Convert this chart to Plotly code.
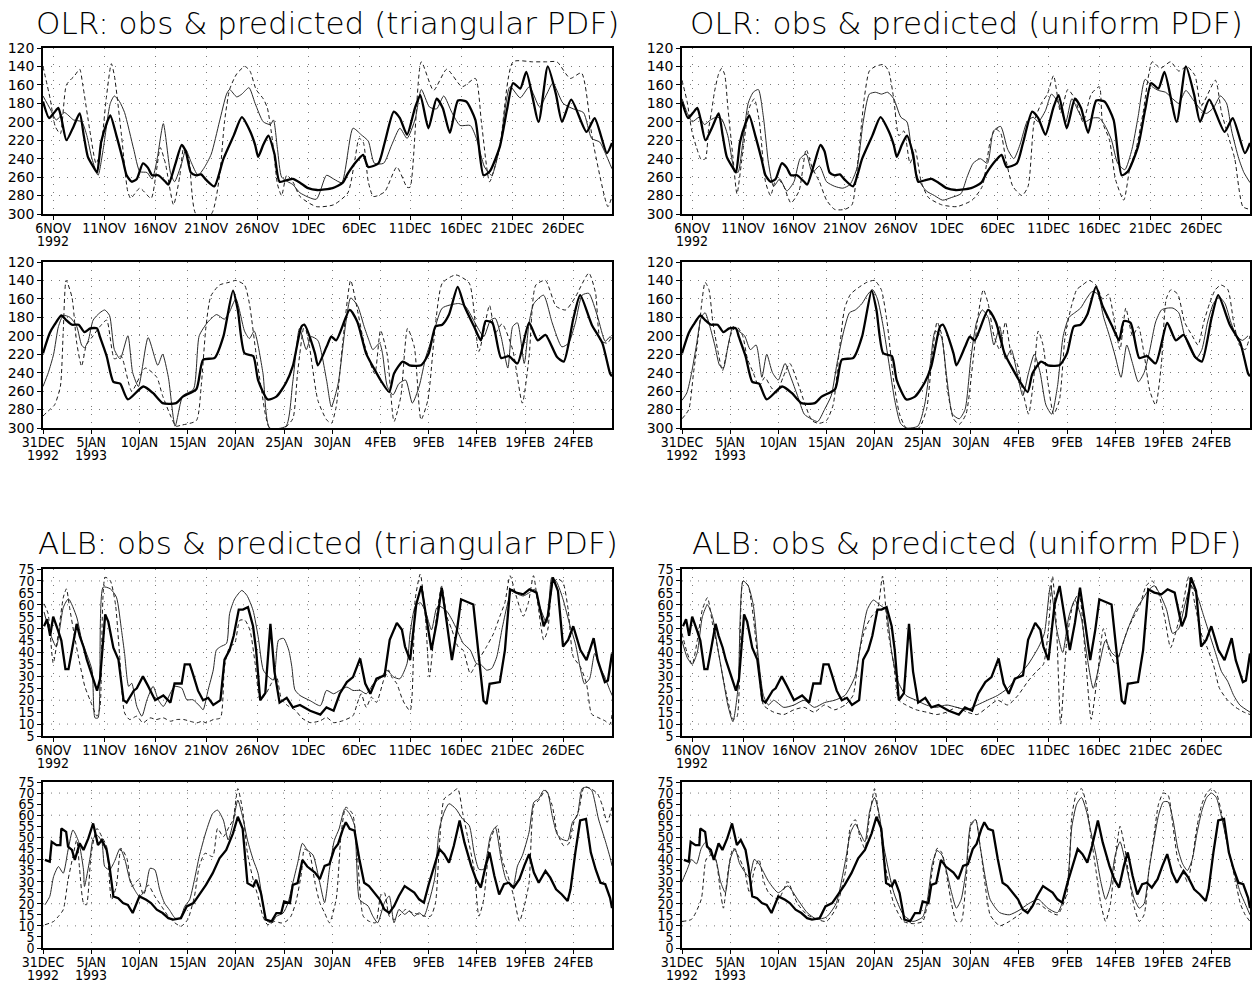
import plotly.graph_objects as go

# ---------------------------------------------------------------------------
# Time axes.  Nov-Dec panels count days from 5 NOV 1992 00Z,
# Jan-Feb panels count days from 31 DEC 1992 00Z.
# ---------------------------------------------------------------------------
NOV_RANGE = [0, 55.8]
JAN_RANGE = [0, 59.0]
NOV_TICK_DAYS = [1, 6, 11, 16, 21, 26, 31, 36, 41, 46, 51]
NOV_TICK_TEXT = ["6NOV", "11NOV", "16NOV", "21NOV", "26NOV", "1DEC",
                 "6DEC", "11DEC", "16DEC", "21DEC", "26DEC"]
JAN_TICK_DAYS = [0, 5, 10, 15, 20, 25, 30, 35, 40, 45, 50, 55]
JAN_TICK_TEXT = ["31DEC", "5JAN", "10JAN", "15JAN", "20JAN", "25JAN",
                 "30JAN", "4FEB", "9FEB", "14FEB", "19FEB", "24FEB"]
# year written under the first tick(s) of each time axis
NOV_YEAR_LABELS = [(1, "1992")]
JAN_YEAR_LABELS = [(0, "1992"), (5, "1993")]

OLR_TICKS = list(range(120, 301, 20))
ALB_NOV_TICKS = list(range(5, 76, 5))
ALB_JAN_TICKS = list(range(0, 76, 5))

TITLES = {
    "olr_tri": "OLR: obs & predicted (triangular PDF)",
    "olr_uni": "OLR: obs & predicted (uniform PDF)",
    "alb_tri": "ALB: obs & predicted (triangular PDF)",
    "alb_uni": "ALB: obs & predicted (uniform PDF)",
}

# ---------------------------------------------------------------------------
# Series as (day, value) pairs.  OBS = observed, A = first prediction
# (thin solid), B = second prediction (dashed).
# ---------------------------------------------------------------------------
OLR_NOV_OBS = [(0, 178), (0.6, 196), (1.1, 190), (1.5, 185), (1.8, 196), (2.3, 220), (3.0, 205), (3.6, 191),
               (4.0, 215), (4.4, 238), (5.0, 250), (5.3, 255), (5.7, 222), (6.3, 200), (6.6, 193), (7.2, 215),
               (7.8, 240), (8.2, 258), (8.7, 265), (9.2, 262), (9.8, 245), (10.3, 250), (10.7, 258), (11.3, 258),
               (12.0, 265), (12.3, 268), (13.0, 245), (13.6, 225), (14.0, 232), (14.5, 255), (15.0, 258),
               (15.5, 257), (16.0, 263), (16.8, 270), (17.7, 240), (18.7, 215), (19.5, 195), (20.3, 210),
               (20.8, 225), (21.1, 238), (21.6, 225), (22.1, 215), (22.7, 235), (23.2, 265), (24.0, 263),
               (24.5, 262), (25.2, 266), (26.0, 272), (26.9, 274), (28.4, 272), (29.4, 266), (29.9, 256),
               (30.9, 241), (31.4, 236), (31.9, 249), (32.9, 245), (33.5, 223), (34.4, 189), (35.0, 196),
               (35.7, 214), (36.5, 184), (37.0, 171), (37.8, 207), (38.6, 175), (39.2, 185), (39.9, 212),
               (40.7, 177), (41.5, 178), (42.4, 198), (43.2, 258), (43.8, 254), (44.8, 227), (45.5, 187),
               (46.1, 158), (46.8, 164), (47.4, 146), (48.6, 200), (49.5, 140), (50.3, 170), (50.9, 200),
               (51.8, 176), (53.3, 211), (54.1, 196), (55.3, 234), (55.8, 223)]

OLR_NOV_TRI_A = [(0, 172), (0.7, 186), (1.3, 198), (2.1, 190), (3.0, 198), (3.8, 200), (4.3, 215), (4.8, 240),
                 (5.4, 258), (5.9, 230), (6.6, 180), (7.0, 172), (7.5, 178), (8.0, 190), (8.9, 230), (9.5, 254),
                 (10.2, 255), (10.7, 262), (11.2, 240), (11.8, 202), (12.5, 255), (12.9, 265), (13.6, 245),
                 (14.0, 230), (14.5, 243), (15.2, 258), (15.8, 250), (16.5, 235), (17.3, 200), (18.0, 170),
                 (18.3, 165), (19.0, 173), (19.5, 170), (20.2, 163), (20.8, 180), (21.6, 200), (22.3, 203),
                 (22.6, 198), (23.0, 230), (23.4, 260), (24.0, 265), (24.5, 268), (25.2, 277), (26.8, 284),
                 (27.8, 258), (28.5, 262), (29.3, 266), (30.4, 207), (31.2, 214), (31.9, 221), (32.5, 245),
                 (33.4, 245), (34.2, 225), (35.0, 207), (35.7, 218), (36.5, 197), (37.1, 165), (37.9, 184),
                 (38.6, 186), (39.3, 172), (40.1, 190), (40.9, 204), (41.9, 204), (42.5, 218), (43.3, 249),
                 (44.0, 258), (44.8, 227), (45.8, 162), (46.8, 174), (47.7, 162), (48.7, 184), (49.4, 170),
                 (50.0, 158), (51.0, 180), (52.0, 186), (53.0, 190), (53.8, 218), (54.6, 222), (55.3, 238),
                 (55.8, 251)]

OLR_NOV_TRI_B = [(0, 140), (0.7, 175), (1.2, 205), (1.7, 213), (2.3, 160), (3.1, 150), (3.6, 143), (3.9, 160),
                 (4.6, 210), (5.2, 245), (5.6, 235), (6.2, 175), (6.7, 137), (7.0, 150), (7.7, 215), (8.3, 275),
                 (8.6, 283), (9.5, 272), (10.6, 283), (11.1, 255), (11.5, 228), (12.0, 245), (12.8, 290),
                 (13.4, 260), (13.8, 228), (14.3, 240), (15.0, 300), (16.5, 300), (17.3, 260), (17.8, 200),
                 (18.3, 165), (19.0, 148), (19.8, 140), (20.3, 145), (20.9, 165), (21.6, 175), (22.0, 185),
                 (22.5, 220), (23.0, 268), (23.4, 280), (23.9, 258), (24.5, 265), (25.2, 281), (26.8, 292),
                 (28.5, 290), (29.9, 277), (30.6, 240), (31.0, 218), (31.4, 222), (31.9, 265), (32.4, 281),
                 (33.5, 276), (34.7, 249), (35.7, 271), (36.0, 271), (37.1, 135), (38.3, 166), (39.6, 143),
                 (41.1, 162), (42.4, 153), (43.0, 201), (43.8, 265), (44.8, 227), (46.1, 135), (48.0, 135),
                 (49.4, 135), (50.4, 135), (51.7, 153), (52.8, 147), (53.9, 220), (55.4, 292), (55.8, 281)]

OLR_NOV_UNI_A = [(0, 175), (0.5, 190), (1.0, 200), (1.7, 195), (2.2, 203), (2.8, 198), (3.4, 195), (3.9, 197),
                 (4.5, 215), (5.1, 250), (5.5, 255), (6.0, 220), (6.5, 180), (7.0, 168), (7.5, 165), (8.0, 195),
                 (8.5, 245), (9.0, 270), (9.6, 262), (10.3, 275), (11.0, 265), (11.6, 240), (12.2, 235),
                 (12.8, 255), (13.5, 248), (14.2, 265), (15.0, 270), (15.8, 272), (16.5, 268), (17.2, 250),
                 (17.8, 200), (18.4, 170), (19.0, 168), (19.6, 170), (20.2, 168), (20.8, 175), (21.5, 195),
                 (22.1, 200), (22.6, 235), (23.2, 262), (24.0, 275), (24.8, 280), (25.6, 285), (26.5, 282),
                 (27.4, 278), (28.0, 260), (28.6, 245), (29.3, 240), (30.0, 245), (30.6, 210), (31.3, 205),
                 (32.0, 230), (32.6, 240), (33.2, 225), (33.9, 200), (34.5, 195), (35.0, 200), (35.7, 188),
                 (36.3, 170), (37.0, 180), (37.7, 200), (38.3, 175), (39.0, 190), (39.6, 200), (40.3, 196),
                 (41.0, 196), (41.6, 205), (42.2, 220), (42.8, 245), (43.5, 252), (44.2, 230), (44.8, 195),
                 (45.5, 154), (46.2, 162), (46.8, 166), (47.5, 168), (48.2, 175), (48.8, 180), (49.5, 166),
                 (50.2, 176), (50.9, 186), (51.5, 191), (52.2, 185), (52.9, 172), (53.5, 180), (54.0, 210),
                 (54.7, 240), (55.2, 255), (55.8, 266)]

OLR_NOV_UNI_B = [(0, 155), (0.5, 178), (0.95, 209), (1.4, 227), (1.9, 241), (2.3, 240), (2.6, 209), (2.9, 189),
                 (3.2, 167), (3.6, 148), (3.9, 142), (4.2, 149), (4.5, 184), (5.0, 238), (5.4, 278), (6.0, 230),
                 (6.6, 185), (7.1, 175), (7.6, 200), (8.2, 265), (8.7, 280), (9.3, 260), (10.0, 270), (10.7, 288),
                 (11.5, 275), (12.2, 230), (12.8, 250), (13.5, 265), (14.2, 285), (15.0, 295), (16.0, 295),
                 (16.7, 290), (17.3, 240), (17.9, 175), (18.4, 145), (19.0, 140), (19.8, 138), (20.3, 145),
                 (20.8, 175), (21.3, 215), (21.8, 210), (22.4, 245), (22.9, 230), (23.5, 265), (24.2, 282),
                 (25.5, 290), (27.0, 292), (28.5, 285), (29.5, 270), (30.3, 220), (30.8, 208), (31.3, 212),
                 (31.8, 240), (32.5, 270), (33.4, 280), (34.0, 270), (34.6, 200), (35.3, 180), (35.9, 170),
                 (36.5, 150), (37.2, 190), (37.9, 165), (38.6, 175), (39.4, 200), (40.2, 170), (41.0, 162),
                 (41.3, 200), (42.0, 220), (42.6, 263), (43.4, 285), (44.0, 250), (44.6, 230), (45.3, 190),
                 (46.2, 135), (47.0, 142), (48.0, 135), (48.8, 145), (49.6, 140), (50.4, 150), (51.0, 183),
                 (52.4, 155), (53.0, 190), (53.6, 213), (54.3, 240), (55.1, 292), (55.8, 295)]

OLR_JAN_OBS = [(0, 219), (0.7, 197), (1.2, 188), (1.9, 178), (2.4, 183), (3.0, 188), (3.7, 188), (4.3, 196),
               (4.9, 192), (5.6, 192), (5.9, 201), (6.6, 222), (7.3, 250), (8.0, 252), (8.8, 269), (10.4, 255),
               (11.4, 262), (12.4, 273), (13.8, 273), (14.5, 266), (15.9, 258), (16.6, 226), (17.8, 224),
               (18.7, 201), (19.7, 151), (20.2, 172), (20.9, 219), (21.8, 222), (22.3, 248), (23.3, 269),
               (24.2, 266), (25.2, 251), (25.9, 233), (26.8, 190), (27.1, 188), (28.2, 219), (28.5, 232),
               (29.4, 212), (29.9, 201), (30.4, 205), (31.8, 172), (32.6, 185), (33.5, 219), (34.4, 237),
               (35.0, 248), (35.9, 261), (36.4, 241), (37.3, 228), (38.0, 232), (39.2, 232), (40.0, 219),
               (40.7, 190), (41.4, 188), (42.1, 177), (43.0, 147), (43.7, 168), (44.7, 190), (45.4, 205),
               (45.9, 184), (46.6, 186), (47.5, 224), (48.3, 222), (49.2, 230), (50.4, 186), (51.3, 205),
               (52.1, 199), (53.3, 223), (54.0, 228), (55.0, 181), (55.7, 156), (56.9, 188), (58.0, 208),
               (58.8, 241), (59.0, 244)]

OLR_JAN_TRI_A = [(0, 255), (0.55, 240), (1.1, 220), (1.6, 190), (2.1, 178), (2.8, 180), (3.5, 190), (4.0, 210),
                 (4.3, 213), (4.7, 205), (5.2, 183), (5.9, 175), (6.4, 172), (6.9, 178), (7.4, 215), (8.0, 225),
                 (8.8, 200), (9.3, 240), (9.9, 255), (10.9, 202), (11.9, 232), (12.4, 220), (13.0, 245),
                 (13.7, 298), (14.5, 265), (15.6, 258), (16.2, 200), (17.1, 185), (18.0, 177), (18.8, 182),
                 (19.3, 175), (20.0, 160), (20.9, 195), (21.4, 203), (21.9, 195), (22.8, 240), (23.5, 300),
                 (25.2, 298), (25.9, 250), (26.6, 192), (27.3, 215), (27.8, 201), (28.5, 205), (29.4, 248),
                 (29.9, 277), (30.6, 252), (31.4, 186), (31.9, 159), (32.6, 167), (33.3, 190), (33.8, 205),
                 (34.2, 215), (34.9, 208), (35.2, 219), (35.7, 255), (36.3, 264), (36.9, 252), (37.6, 248),
                 (38.3, 273), (39.0, 255), (39.7, 223), (40.4, 201), (41.4, 170), (43.1, 165), (43.8, 168),
                 (44.9, 188), (45.7, 201), (46.4, 183), (46.9, 181), (47.5, 201), (48.2, 235), (48.7, 190),
                 (49.2, 186), (49.9, 230), (50.4, 186), (50.9, 165), (51.9, 156), (52.8, 186), (53.8, 212),
                 (54.5, 208), (55.2, 186), (55.9, 156), (56.6, 154), (57.5, 179), (58.3, 206), (58.8, 201),
                 (59.0, 203)]

OLR_JAN_TRI_B = [(0, 287), (0.7, 280), (1.2, 275), (1.8, 255), (2.1, 195), (2.4, 140), (3.0, 158), (3.5, 208),
                 (4.0, 233), (4.5, 210), (5.2, 200), (5.9, 190), (6.6, 183), (7.4, 225), (8.1, 222), (9.2, 260),
                 (10.6, 235), (11.8, 245), (12.4, 265), (13.8, 298), (14.3, 297), (15.9, 292), (16.4, 255),
                 (16.9, 190), (17.4, 157), (18.3, 145), (19.3, 142), (20.0, 140), (20.9, 145), (21.4, 165),
                 (22.1, 220), (22.6, 255), (23.5, 300), (25.0, 300), (25.9, 290), (26.4, 240), (27.1, 188),
                 (27.6, 210), (28.5, 270), (29.4, 291), (29.9, 295), (30.4, 277), (31.1, 205), (31.9, 140),
                 (32.6, 172), (33.3, 208), (34.4, 241), (35.0, 194), (35.7, 221), (36.4, 293), (37.1, 266),
                 (37.8, 192), (38.5, 212), (39.2, 291), (39.9, 270), (40.7, 187), (41.4, 143), (42.8, 134),
                 (44.2, 143), (45.2, 217), (46.3, 167), (46.9, 197), (47.6, 187), (48.7, 215), (49.7, 273),
                 (50.4, 223), (51.1, 145), (52.1, 140), (53.2, 168), (54.2, 172), (55.2, 158), (56.6, 132),
                 (57.3, 154), (57.8, 205), (58.5, 208), (59.0, 201)]

OLR_JAN_UNI_A = [(0, 270), (0.5, 262), (1.0, 240), (1.5, 210), (2.0, 180), (2.4, 175), (2.9, 190), (3.4, 210),
                 (3.9, 232), (4.3, 235), (4.8, 210), (5.3, 190), (5.9, 195), (6.5, 200), (7.1, 215), (7.7, 210),
                 (8.3, 245), (8.8, 220), (9.4, 240), (10.0, 248), (10.7, 230), (11.3, 245), (12.0, 265),
                 (12.7, 285), (13.4, 290), (14.1, 293), (14.8, 280), (15.5, 265), (16.1, 230), (16.8, 195),
                 (17.4, 175), (18.0, 172), (18.7, 165), (19.3, 155), (19.8, 150), (20.3, 160), (20.9, 190),
                 (21.5, 230), (22.1, 270), (22.7, 295), (23.3, 300), (24.5, 298), (25.2, 275), (25.8, 230),
                 (26.3, 195), (26.9, 200), (27.5, 245), (28.1, 285), (28.8, 290), (29.4, 280), (30.0, 225),
                 (30.6, 185), (31.2, 172), (31.8, 180), (32.4, 210), (33.0, 190), (33.6, 225), (34.2, 215),
                 (34.8, 240), (35.4, 265), (36.0, 240), (36.6, 220), (37.2, 240), (37.8, 275), (38.4, 285),
                 (39.0, 255), (39.6, 200), (40.2, 180), (40.8, 175), (41.4, 170), (42.0, 160), (42.6, 152),
                 (43.2, 155), (43.8, 180), (44.4, 200), (45.0, 222), (45.6, 245), (46.2, 210), (46.8, 230),
                 (47.4, 250), (48.0, 240), (48.6, 215), (49.2, 185), (49.8, 172), (50.4, 170), (51.0, 170),
                 (51.6, 175), (52.2, 200), (52.8, 215), (53.4, 225), (54.0, 215), (54.6, 185), (55.2, 165),
                 (55.8, 158), (56.4, 165), (57.0, 185), (57.6, 200), (58.2, 205), (58.8, 200)]

OLR_JAN_UNI_B = [(0, 290), (0.7, 280), (1.2, 240), (1.7, 200), (2.1, 160), (2.4, 142), (2.8, 150), (3.2, 185),
                 (3.7, 215), (4.2, 238), (4.7, 215), (5.2, 195), (5.7, 190), (6.3, 200), (6.8, 225), (7.4, 240),
                 (8.0, 255), (8.6, 245), (9.2, 255), (9.8, 262), (10.5, 245), (11.2, 230), (12.0, 250),
                 (12.8, 275), (13.5, 292), (14.2, 295), (15.0, 292), (15.7, 275), (16.3, 220), (16.9, 170),
                 (17.5, 155), (18.3, 148), (19.2, 142), (20.0, 140), (20.7, 150), (21.3, 185), (22.0, 250),
                 (22.6, 285), (23.3, 300), (24.6, 300), (25.4, 280), (26.0, 220), (26.5, 185), (27.0, 200),
                 (27.6, 260), (28.2, 290), (28.8, 296), (29.5, 285), (30.2, 230), (30.8, 175), (31.3, 150),
                 (31.8, 165), (32.4, 200), (33.0, 215), (33.6, 185), (34.2, 220), (34.8, 230), (35.4, 260),
                 (36.0, 285), (36.5, 250), (37.0, 195), (37.5, 210), (38.0, 250), (38.6, 285), (39.2, 270),
                 (39.8, 200), (40.4, 170), (41.0, 150), (41.6, 145), (42.3, 140), (43.0, 145), (43.7, 160),
                 (44.3, 155), (45.0, 190), (45.5, 215), (46.1, 170), (46.8, 200), (47.4, 190), (48.0, 220),
                 (48.6, 260), (49.2, 275), (49.8, 230), (50.3, 160), (50.8, 150), (51.5, 155), (52.2, 185),
                 (53.0, 200), (53.6, 210), (54.2, 185), (54.8, 165), (55.4, 150), (56.0, 145), (56.7, 150),
                 (57.3, 185), (57.9, 210), (58.5, 215), (59.0, 200)]

ALB_NOV_OBS = [(0.1, 51), (0.4, 54), (0.7, 47), (1.0, 55), (1.5, 49), (1.8, 45), (2.2, 33), (2.5, 33), (2.8, 40),
               (3.3, 52), (3.6, 47), (4.0, 42), (4.3, 37), (4.8, 30), (5.3, 24), (5.6, 29), (6.1, 56), (6.4, 53),
               (6.9, 42), (7.4, 37), (7.9, 20), (8.2, 19), (8.9, 24), (9.2, 25), (9.8, 30), (10.3, 26), (11.0, 20),
               (11.8, 22), (12.5, 19), (12.9, 27), (13.6, 27), (13.9, 35), (14.4, 35), (14.7, 31), (15.2, 24),
               (15.7, 20), (16.2, 21), (16.7, 18), (17.4, 20), (17.8, 37), (18.3, 41), (18.7, 47), (19.2, 58),
               (19.6, 58), (20.1, 59), (20.6, 51), (20.9, 41), (21.3, 20), (21.8, 23), (22.3, 52), (22.7, 32),
               (23.2, 19), (23.9, 21), (24.5, 17), (25.2, 18), (26.2, 15.6), (27.2, 14), (27.8, 17), (28.5, 15.6),
               (29.1, 22.7), (29.8, 27.6), (30.4, 29.7), (31.1, 37.5), (31.6, 27), (32.1, 22.7), (32.7, 29),
               (33.5, 30.4), (34.0, 45.3), (34.7, 52.4), (35.2, 49.5), (35.5, 42.5), (36.0, 36.8), (36.6, 60.1),
               (37.1, 67.9), (37.6, 55.2), (38.1, 41), (38.6, 52.4), (39.1, 67.2), (39.6, 52.4), (40.1, 36.8),
               (40.6, 49.5), (41.0, 62.3), (42.2, 60.1), (42.7, 39.6), (43.2, 19.8), (43.5, 18.4), (43.8, 26.9),
               (44.8, 27.6), (45.3, 41), (45.8, 66.5), (46.4, 65.1), (47.1, 64.4), (47.7, 66.5), (48.4, 65.1),
               (49.1, 51), (49.5, 55.2), (50.0, 71.5), (50.5, 65.8), (51.0, 42.5), (51.5, 45.3), (52.0, 51),
               (52.7, 41), (53.3, 36.8), (54.0, 46), (54.4, 36.8), (55.1, 27.6), (55.4, 28.3), (55.8, 39.6)]

ALB_NOV_TRI_A = [(0.1, 57), (0.7, 48), (1.3, 42.4), (2.0, 59), (2.5, 62.5), (3.3, 54.9), (3.8, 45.2), (4.8, 32.7),
                 (5.1, 12.6), (5.4, 12.6), (5.9, 67.4), (6.6, 66.7), (7.2, 63.2), (7.7, 49.3), (8.0, 39.6),
                 (8.4, 25.8), (8.7, 27.1), (9.2, 17.4), (9.7, 13.3), (10.2, 20.2), (10.8, 25.8), (11.3, 20.2),
                 (11.8, 17.4), (12.5, 23), (12.9, 25.8), (13.6, 25.1), (14.1, 20.2), (14.7, 20.2), (15.4, 17.4),
                 (15.7, 16), (16.2, 24.4), (16.7, 32.7), (17.0, 41), (17.4, 42.4), (18.0, 43.8), (18.3, 56.3),
                 (18.8, 62.5), (19.5, 66), (20.0, 63.9), (20.6, 57.7), (21.1, 46.6), (21.6, 32.7), (22.1, 29.9),
                 (22.6, 28.5), (23.1, 45.2), (23.6, 45.9), (24.1, 41), (24.4, 34.1), (24.7, 24.4), (25.2, 22),
                 (26.2, 19.8), (27.2, 17.7), (27.8, 24.1), (28.5, 22.7), (29.1, 24.1), (29.8, 25.5), (30.4, 24.1),
                 (31.1, 24.1), (31.7, 22.7), (32.4, 26.9), (33.2, 29.7), (33.7, 32.6), (34.4, 29.7), (35.0, 29),
                 (35.7, 35.4), (36.0, 48.1), (36.5, 59.4), (37.0, 60.9), (37.5, 57.3), (38.1, 49.5), (38.6, 58.7),
                 (38.9, 59.4), (39.6, 57.3), (40.1, 53.8), (40.6, 49.5), (41.2, 43.9), (41.9, 41), (42.5, 35.4),
                 (43.0, 34.7), (43.5, 32.6), (44.0, 33.3), (44.5, 38.2), (45.0, 49.5), (45.5, 59.4), (46.0, 66.5),
                 (46.6, 64.4), (47.1, 63.7), (47.7, 65.1), (48.2, 66.5), (48.7, 59.4), (49.4, 52.4), (49.9, 71.5),
                 (50.4, 69.3), (51.0, 62.3), (51.7, 51), (52.2, 43.9), (52.8, 31.2), (53.1, 26.9), (53.6, 29),
                 (54.1, 39.6), (54.6, 34), (55.1, 29.7), (55.6, 24.1), (55.9, 21.3)]

ALB_NOV_TRI_B = [(0.1, 60.4), (0.5, 56.3), (1.0, 35.5), (1.5, 48), (2.0, 63.2), (2.3, 66.7), (2.6, 59), (3.1, 46.6),
                 (3.6, 35.5), (4.1, 25.8), (4.6, 20.2), (5.3, 13.3), (5.6, 17.4), (6.1, 71.5), (6.6, 70.1),
                 (7.1, 60.4), (7.5, 39.6), (8.0, 14.7), (8.5, 11.9), (9.2, 13.3), (9.8, 10.5), (10.5, 12.6),
                 (11.1, 11.9), (11.8, 12.6), (12.5, 11.2), (13.1, 11.9), (13.8, 11.9), (14.4, 11.2), (15.1, 10.5),
                 (15.6, 11.2), (16.0, 10.5), (16.7, 11.9), (17.4, 12.6), (17.8, 34.1), (18.3, 42.4), (18.8, 43.8),
                 (19.3, 53.5), (19.8, 53.5), (20.3, 49.3), (20.8, 35.5), (21.3, 20.2), (21.9, 23), (22.4, 27.1),
                 (22.9, 29.9), (23.4, 20.2), (24.1, 17.4), (24.7, 16), (25.4, 12.5), (26.2, 10.6), (27.2, 11.4),
                 (27.8, 12.8), (28.5, 10.6), (29.4, 11.4), (30.4, 13.5), (30.8, 18.4), (31.2, 22.7), (31.7, 17),
                 (32.2, 21.3), (32.7, 19.1), (33.4, 28.3), (33.9, 32.6), (34.2, 29.7), (34.7, 26.9), (35.3, 19.8),
                 (36.0, 15.6), (36.5, 62.3), (37.0, 72.9), (37.5, 55.2), (37.9, 29.7), (38.3, 45.3), (38.6, 55.2),
                 (39.1, 67.9), (39.6, 55.2), (40.1, 49.5), (40.7, 42.5), (41.2, 41), (41.9, 31.2), (42.5, 35.4),
                 (43.5, 42.5), (44.2, 48.1), (44.8, 55.2), (45.3, 60.9), (45.8, 72.2), (46.4, 63.7), (47.1, 55.2),
                 (47.6, 60.9), (48.1, 72.2), (48.6, 58), (49.1, 45.3), (49.5, 49.5), (50.0, 69.3), (50.5, 70.8),
                 (51.0, 69.3), (51.5, 58), (52.0, 38.2), (52.7, 34), (53.3, 26.9), (53.8, 14.2), (54.4, 12.8),
                 (55.1, 11.4), (55.6, 9.9), (55.9, 18.4)]

ALB_NOV_UNI_A = [(0, 45), (0.5, 38), (1.0, 35), (1.5, 40), (2.0, 55), (2.5, 60), (3.0, 55), (3.5, 42), (4.0, 30),
                 (4.5, 18), (5.0, 11), (5.5, 25), (6.0, 70), (6.5, 68), (7.0, 60), (7.5, 38), (8.0, 22), (8.5, 18),
                 (9, 20), (10, 17), (11, 18), (12, 20), (13, 17), (14, 19), (15, 20), (16, 22), (17, 30),
                 (17.6, 45), (18.2, 58), (18.8, 62), (19.4, 60), (20, 58), (20.6, 40), (21.2, 28), (22, 22),
                 (23, 20), (24, 18), (25, 17), (26, 18), (27, 17), (28, 16), (29, 18), (30, 20), (31, 22),
                 (32, 25), (33, 30), (34, 35), (35, 42), (35.6, 48), (36.2, 68), (36.8, 50), (37.4, 40), (38.0, 55),
                 (38.6, 62), (39.2, 55), (39.8, 38), (40.4, 25), (41, 35), (41.6, 45), (42.2, 40), (42.8, 38),
                 (43.4, 45), (44.0, 52), (44.6, 58), (45.2, 62), (45.8, 66), (46.4, 68), (47.0, 64), (47.6, 58),
                 (48.2, 48), (48.8, 50), (49.4, 60), (50.0, 68), (50.6, 64), (51.2, 56), (51.8, 48), (52.4, 40),
                 (53.0, 32), (53.6, 28), (54.2, 22), (54.8, 18), (55.8, 15)]

ALB_NOV_UNI_B = [(0, 48), (0.5, 40), (1.0, 35), (1.5, 45), (2.0, 58), (2.5, 63), (3.0, 52), (3.5, 42), (4.0, 30),
                 (4.5, 20), (5.0, 12), (5.4, 13), (6.0, 70), (6.5, 68), (7.0, 55), (7.5, 35), (8.0, 18), (9.0, 15),
                 (10.0, 14), (11.0, 16), (12.0, 17), (13.0, 15), (14.0, 18), (15.0, 16), (16.0, 18), (16.8, 22),
                 (17.4, 40), (18.0, 50), (18.6, 55), (19.2, 58), (19.7, 72), (20.2, 50), (20.8, 35), (21.3, 20),
                 (22, 18), (23, 16), (24, 15), (25, 14), (26, 15), (27, 17), (28, 15), (29, 14), (30, 17), (31, 20),
                 (32, 18), (33, 22), (34, 28), (34.8, 32), (35.5, 35), (36.0, 50), (36.4, 72), (36.8, 50),
                 (37.2, 10), (37.8, 45), (38.4, 60), (39.0, 65), (39.6, 40), (40.2, 12), (40.8, 30), (41.4, 50),
                 (42.0, 40), (42.6, 35), (43.2, 42), (43.8, 50), (44.4, 55), (45.0, 60), (45.6, 68), (46.2, 70),
                 (46.8, 65), (47.4, 55), (48.0, 42), (48.6, 50), (49.2, 60), (49.8, 72), (50.4, 60), (51.0, 48),
                 (51.6, 42), (52.2, 35), (52.8, 25), (53.6, 20), (54.4, 17), (55.2, 15), (55.8, 14)]

ALB_JAN_OBS = [(0.2, 39.8), (0.7, 39), (0.9, 48), (1.4, 46.5), (1.8, 46.5), (1.9, 54), (2.4, 52.5), (2.6, 45.8),
               (3.0, 44.3), (3.3, 39.8), (3.8, 47.3), (4.2, 44.3), (4.7, 49.5), (5.2, 56.3), (5.7, 46.5),
               (6.1, 48.8), (6.6, 44.3), (6.9, 36.8), (7.3, 23.3), (7.8, 22.5), (8.3, 20.3), (8.8, 19.5),
               (9.3, 15.8), (10.0, 23.3), (10.7, 21.8), (11.2, 20.3), (11.8, 17.3), (12.4, 15.8), (13.0, 13.5),
               (13.5, 12.8), (14.3, 13.5), (14.9, 18.8), (15.6, 20.3), (16.2, 24), (16.9, 28.5), (17.6, 33.8),
               (18.3, 40.5), (19.0, 44.3), (19.7, 51.8), (20.2, 59.3), (20.7, 54), (21.2, 29.3), (21.8, 27.8),
               (22.1, 30.8), (22.6, 24.8), (23.1, 12.8), (23.7, 12), (24.2, 15.8), (24.7, 15.8), (25.0, 21),
               (25.6, 20.3), (25.9, 28.5), (26.4, 29.3), (26.9, 39.8), (27.4, 36.8), (28.2, 34.1), (28.7, 31.1),
               (29.2, 37.1), (29.7, 37.9), (30.2, 44.7), (30.6, 47), (31.1, 53.8), (31.4, 56.8), (31.8, 53.8),
               (32.3, 53), (32.8, 40.2), (33.3, 29.5), (33.8, 28), (34.4, 25), (34.9, 22), (35.4, 17.4),
               (35.9, 15.9), (36.4, 18.9), (36.9, 23.5), (37.5, 28), (38.0, 26.5), (38.5, 25), (39.0, 22),
               (39.5, 20.5), (40.0, 28.8), (40.6, 37.1), (41.1, 44.7), (41.6, 42.4), (42.1, 38.6), (42.6, 46.2),
               (43.2, 57.6), (43.7, 47.7), (44.4, 37.1), (44.9, 31.1), (45.4, 27.3), (45.9, 37.1), (46.3, 43.2),
               (46.8, 32.6), (47.3, 24.2), (47.8, 28.8), (48.3, 29.5), (48.8, 27.3), (49.4, 31.1), (49.9, 37.1),
               (50.4, 42.4), (50.9, 34.1), (51.4, 29.5), (52.1, 34.8), (52.6, 31.8), (53.2, 26.5), (53.8, 24.2),
               (54.4, 21.2), (54.7, 26.5), (55.2, 43.2), (55.7, 57.6), (56.3, 58.3), (56.8, 43.2), (57.3, 35.6),
               (57.8, 29.5), (58.3, 28.8), (58.8, 22.7), (59.0, 18)]

ALB_JAN_TRI_A = [(0.2, 19.5), (0.7, 23.3), (1.1, 32.3), (1.6, 36.8), (2.1, 33.8), (2.6, 44.3), (3.1, 53.3),
                 (3.7, 48), (4.2, 35.3), (4.3, 27.8), (4.9, 41.3), (5.2, 49.5), (5.6, 51), (6.1, 48), (6.4, 36.8),
                 (6.9, 35.3), (7.4, 39), (8.0, 45), (8.5, 39.8), (9.0, 30.8), (9.5, 26.3), (10.0, 23.3),
                 (10.6, 26.3), (11.1, 36), (11.6, 35.3), (12.1, 26.3), (12.6, 20.3), (13.1, 17.3), (13.7, 13.5),
                 (14.2, 13.5), (14.7, 18.8), (15.2, 21.8), (15.7, 30.8), (16.2, 41.3), (16.9, 52.5), (17.6, 60.8),
                 (18.1, 62.3), (18.7, 57.8), (19.2, 48.8), (19.7, 56.3), (20.2, 66.8), (20.7, 59.3), (21.2, 48.8),
                 (21.8, 39.8), (22.3, 33.8), (22.8, 20.3), (23.1, 12.8), (23.7, 11.3), (24.2, 14.3), (24.9, 15.8),
                 (25.4, 20.3), (25.9, 29.3), (26.4, 38.3), (26.9, 47.3), (27.4, 44.3), (28.0, 42), (28.7, 29.5),
                 (29.2, 20.5), (29.7, 35.6), (30.2, 48.5), (30.7, 53.8), (31.3, 62.9), (31.8, 60.6), (32.3, 55.3),
                 (32.8, 22), (33.2, 20.5), (33.7, 19), (34.2, 14.4), (34.7, 11.4), (35.4, 20.5), (35.9, 23.5),
                 (36.4, 11.4), (36.9, 17.4), (37.5, 15.2), (38.0, 16.7), (38.5, 14.4), (39.0, 15.9), (39.5, 14.4),
                 (40.0, 20.5), (40.6, 31.1), (41.1, 53.8), (41.6, 61.4), (42.1, 65.2), (42.8, 62.9), (43.5, 58.3),
                 (44.2, 55.3), (44.7, 43.2), (45.2, 35.6), (45.7, 35.6), (46.4, 50.8), (46.9, 54.5), (47.5, 40.2),
                 (48.0, 31.1), (48.7, 27.3), (49.2, 37.1), (49.7, 41.7), (50.4, 52.3), (50.9, 65.9), (51.4, 67.4),
                 (51.9, 71.2), (52.3, 70.5), (52.8, 59.8), (53.3, 51.5), (53.8, 49.2), (54.4, 48.5), (54.9, 56.8),
                 (55.4, 59.8), (55.9, 72), (56.4, 72.7), (56.9, 71.2), (57.6, 58.3), (58.3, 48.5), (58.8, 40.9),
                 (59.0, 37.1)]

ALB_JAN_TRI_B = [(0.2, 10.5), (1.1, 12), (1.6, 14.3), (2.1, 17.3), (2.6, 30.8), (3.1, 41.3), (3.5, 48.8),
                 (3.8, 35.3), (4.2, 20.3), (4.5, 19.5), (5.0, 42.8), (5.6, 54), (6.1, 50.3), (6.6, 45.8),
                 (7.1, 21.8), (7.6, 27.8), (8.1, 45), (8.7, 40.5), (9.2, 27.8), (9.9, 30.8), (10.4, 24),
                 (10.9, 28.5), (11.6, 23.3), (12.3, 18.8), (13.0, 14.3), (13.7, 11.3), (14.3, 9.8), (15.0, 12.8),
                 (15.7, 23.3), (16.2, 36.8), (16.8, 42.8), (17.6, 41.3), (18.1, 54), (18.7, 50.3), (19.3, 54.8),
                 (19.7, 57.8), (20.2, 72), (20.7, 62.3), (21.2, 42.8), (21.8, 30.8), (22.3, 23.3), (22.8, 14.3),
                 (23.3, 10.5), (24.0, 12), (24.7, 11.3), (25.2, 12), (25.7, 14.3), (26.2, 20.3), (26.8, 33.8),
                 (27.1, 44.7), (27.6, 43.2), (28.2, 29.5), (28.7, 20.5), (29.2, 15.9), (29.7, 11.4), (30.4, 22),
                 (30.9, 50.8), (31.4, 63.6), (32.1, 60.6), (32.6, 41.7), (33.2, 14.4), (33.8, 12.1), (34.5, 11.4),
                 (35.0, 23.5), (35.4, 25), (35.9, 14.4), (36.4, 12.9), (36.9, 14.4), (37.6, 17.4), (38.3, 15.9),
                 (39.0, 15.2), (39.5, 14.4), (40.2, 14.4), (40.7, 20.5), (41.1, 46.2), (41.6, 67.4), (42.3, 69.7),
                 (43.0, 72), (43.5, 61.4), (44.0, 50.8), (44.7, 35.6), (45.2, 14.4), (45.7, 22), (46.4, 49.2),
                 (47.1, 55.3), (47.6, 40.2), (48.2, 32.6), (48.8, 23.5), (49.4, 12.1), (49.9, 18.9), (50.4, 29.5),
                 (50.9, 64.4), (51.4, 66.7), (52.1, 71.2), (52.8, 64.4), (53.3, 52.3), (54.0, 46.2), (54.5, 47),
                 (55.0, 56.1), (55.6, 62.9), (56.1, 72.7), (56.8, 72), (57.5, 69.7), (58.0, 64.4), (58.5, 56.8),
                 (59.0, 63.6)]

ALB_JAN_UNI_A = [(0, 30), (0.5, 35), (1, 40), (1.5, 38), (2, 45), (2.5, 48), (3, 42), (3.5, 40), (4, 30), (4.5, 25),
                 (5, 40), (5.5, 45), (6, 38), (7, 32), (7.5, 40), (8, 38), (9, 30), (10, 25), (11, 28), (12, 22),
                 (13, 16), (14, 13), (15, 14), (16, 20), (17, 40), (17.5, 52), (18, 56), (18.5, 52), (19, 48),
                 (19.5, 62), (20, 68), (20.5, 60), (21, 45), (22, 25), (23, 15), (24, 12), (25, 14), (25.5, 22),
                 (26, 38), (26.5, 44), (27, 42), (28, 25), (28.5, 18), (29, 22), (29.5, 35), (30, 56), (30.5, 58),
                 (31, 45), (32, 22), (33, 16), (34, 15), (35, 17), (36, 20), (37, 22), (38, 18), (39, 16), (40, 28),
                 (40.5, 55), (41, 65), (41.5, 68), (42, 62), (42.5, 52), (43, 42), (43.5, 30), (44, 22), (44.5, 28),
                 (45, 42), (45.5, 48), (46, 40), (46.5, 30), (47, 22), (47.5, 18), (48, 20), (48.5, 35), (49, 48),
                 (49.5, 60), (50, 66), (50.5, 66), (51, 58), (51.5, 45), (52, 38), (52.5, 35), (53, 40), (53.5, 52),
                 (54, 62), (54.5, 68), (55, 70), (55.5, 68), (56, 60), (56.5, 50), (57, 40), (57.5, 32), (58, 25),
                 (58.5, 20), (59, 15)]

ALB_JAN_UNI_B = [(0, 12), (1, 13), (2, 22), (2.5, 40), (3.0, 42), (3.5, 40), (4.0, 25), (4.3, 18), (4.8, 35),
                 (5.3, 45), (5.8, 42), (6.5, 35), (7.0, 25), (7.5, 35), (8.0, 40), (8.5, 30), (9.0, 25), (10, 22),
                 (11, 30), (11.5, 25), (12, 20), (13, 15), (14, 13), (15, 12), (16, 18), (17, 35), (17.5, 55),
                 (18, 58), (18.5, 50), (19, 45), (19.5, 60), (20.0, 72), (20.5, 58), (21, 40), (22, 20), (23, 12),
                 (24, 11), (25, 12), (25.5, 20), (26, 35), (26.5, 45), (27, 43), (28, 20), (28.5, 12), (29, 12),
                 (29.5, 30), (30, 55), (30.5, 58), (31, 45), (32, 15), (32.5, 12), (33, 10), (34, 12), (35, 15),
                 (36, 18), (37, 20), (38, 17), (39, 15), (40, 25), (40.5, 60), (41, 70), (41.5, 72), (42, 65),
                 (42.5, 50), (43, 35), (43.5, 20), (44, 12), (44.5, 20), (45, 40), (45.5, 55), (46, 45), (46.5, 30),
                 (47, 18), (47.5, 12), (48, 15), (48.5, 35), (49, 50), (49.5, 65), (50, 70), (50.5, 69), (51, 55),
                 (51.5, 40), (52, 35), (52.5, 30), (53, 40), (53.5, 55), (54, 65), (54.5, 70), (55, 72), (55.5, 70),
                 (56, 62), (56.5, 50), (57, 40), (57.5, 30), (58, 20), (58.5, 15), (59, 12)]

# ---------------------------------------------------------------------------
# Page geometry (pixel boxes of the eight panels on a 1256 x 984 page)
# ---------------------------------------------------------------------------
W, H = 1256, 984
COL_X = {"left": (43, 612), "right": (682, 1250)}
ROW_Y = {"olr_nov": (48, 214), "olr_jan": (262, 428), "alb_nov": (569, 736), "alb_jan": (782, 948)}

PANELS = [
    # (column, row, y-range, y ticks, period, obs, pred A, pred B)
    ("left", "olr_nov", [300, 120], OLR_TICKS, "nov", OLR_NOV_OBS, OLR_NOV_TRI_A, OLR_NOV_TRI_B),
    ("left", "olr_jan", [300, 120], OLR_TICKS, "jan", OLR_JAN_OBS, OLR_JAN_TRI_A, OLR_JAN_TRI_B),
    ("right", "olr_nov", [300, 120], OLR_TICKS, "nov", OLR_NOV_OBS, OLR_NOV_UNI_A, OLR_NOV_UNI_B),
    ("right", "olr_jan", [300, 120], OLR_TICKS, "jan", OLR_JAN_OBS, OLR_JAN_UNI_A, OLR_JAN_UNI_B),
    ("left", "alb_nov", [5, 75], ALB_NOV_TICKS, "nov", ALB_NOV_OBS, ALB_NOV_TRI_A, ALB_NOV_TRI_B),
    ("left", "alb_jan", [0, 75], ALB_JAN_TICKS, "jan", ALB_JAN_OBS, ALB_JAN_TRI_A, ALB_JAN_TRI_B),
    ("right", "alb_nov", [5, 75], ALB_NOV_TICKS, "nov", ALB_NOV_OBS, ALB_NOV_UNI_A, ALB_NOV_UNI_B),
    ("right", "alb_jan", [0, 75], ALB_JAN_TICKS, "jan", ALB_JAN_OBS, ALB_JAN_UNI_A, ALB_JAN_UNI_B),
]

LINE_OBS = dict(color="#000000", width=2.3)
LINE_A = dict(color="#2a2a2a", width=1.0)
LINE_B = dict(color="#1a1a1a", width=1.0, dash="4px,3px")

DATE_FONT = dict(family="DejaVu Sans Condensed, DejaVu Sans, sans-serif", size=14, color="#000")
GRID = dict(gridcolor="#7a7a7a", gridwidth=1, griddash="1px,7px")

fig = go.Figure()
layout = {}
shapes = []
annotations = []

for i, (col, row, yrange, yticks, period, obs, pa, pb) in enumerate(PANELS, start=1):
    sfx = "" if i == 1 else str(i)
    xname, yname = "x" + sfx, "y" + sfx
    x0, x1 = COL_X[col]
    ytop, ybot = ROW_Y[row]
    is_nov = period == "nov"
    is_olr = row.startswith("olr")

    for series, style in ((pb, LINE_B), (pa, LINE_A), (obs, LINE_OBS)):
        # OLR curves and the ALB predictions are smooth; the ALB observations stay jagged
        smooth = is_olr or series is not obs
        line = dict(style, shape="spline", smoothing=0.6) if smooth else dict(style)
        fig.add_trace(go.Scatter(
            x=[p[0] for p in series], y=[p[1] for p in series],
            xaxis=xname, yaxis=yname, mode="lines", line=line,
            hoverinfo="skip", showlegend=False))

    layout["xaxis" + sfx] = dict(
        domain=[x0 / W, x1 / W], anchor=yname, automargin=False,
        range=NOV_RANGE if is_nov else JAN_RANGE,
        tickmode="array",
        tickvals=NOV_TICK_DAYS if is_nov else JAN_TICK_DAYS,
        ticktext=NOV_TICK_TEXT if is_nov else JAN_TICK_TEXT,
        ticks="outside", ticklen=4, tickwidth=1, tickcolor="#000", ticklabelstandoff=-4,
        tickfont=DATE_FONT, showline=True, mirror=True, linecolor="#000", linewidth=1.5,
        showgrid=True, zeroline=False, fixedrange=True, **GRID)
    layout["yaxis" + sfx] = dict(
        domain=[1 - ybot / H, 1 - ytop / H], anchor=xname, automargin=False,
        range=yrange, tickmode="array", tickvals=yticks, ticktext=[str(v) for v in yticks],
        ticks="outside", ticklen=4, tickwidth=1, tickcolor="#000",
        tickfont=dict(family=("DejaVu Sans, sans-serif" if is_olr
                              else "DejaVu Sans Condensed, DejaVu Sans, sans-serif"),
                      size=14, color="#000"),
        showline=True, mirror=True, linecolor="#000", linewidth=1.5,
        showgrid=is_olr, zeroline=False, fixedrange=True, **GRID)
    if not is_olr:
        for level in range(10, 71, 10):
            shapes.append(dict(type="line", xref=xname + " domain", yref=yname,
                               x0=0, x1=1, y0=level, y1=level, layer="below",
                               line=dict(color="#7a7a7a", width=1, dash="1px,7px")))
    for day, year in (NOV_YEAR_LABELS if is_nov else JAN_YEAR_LABELS):
        annotations.append(dict(text=year, x=day, xref=xname, y=1 - (ybot + 27) / H, yref="paper",
                                xanchor="center", yanchor="middle", showarrow=False, font=DATE_FONT))

TITLE_FONT = dict(family="DejaVu Sans, sans-serif", size=31, color="#000", weight=200)
for text, cx, cy in ((TITLES["olr_tri"], 327.5, 23), (TITLES["olr_uni"], 966, 23),
                     (TITLES["alb_tri"], 327.5, 543), (TITLES["alb_uni"], 966, 543)):
    annotations.append(dict(text=text, x=cx / W, y=1 - cy / H, xref="paper", yref="paper",
                            xanchor="center", yanchor="middle", showarrow=False, font=TITLE_FONT))

fig.update_layout(
    template="none",
    width=W, height=H, autosize=False,
    margin=dict(l=0, r=0, t=0, b=0, autoexpand=False),
    paper_bgcolor="#ffffff", plot_bgcolor="#ffffff",
    annotations=annotations, shapes=shapes,
    **layout)

fig.write_html("out.html")
